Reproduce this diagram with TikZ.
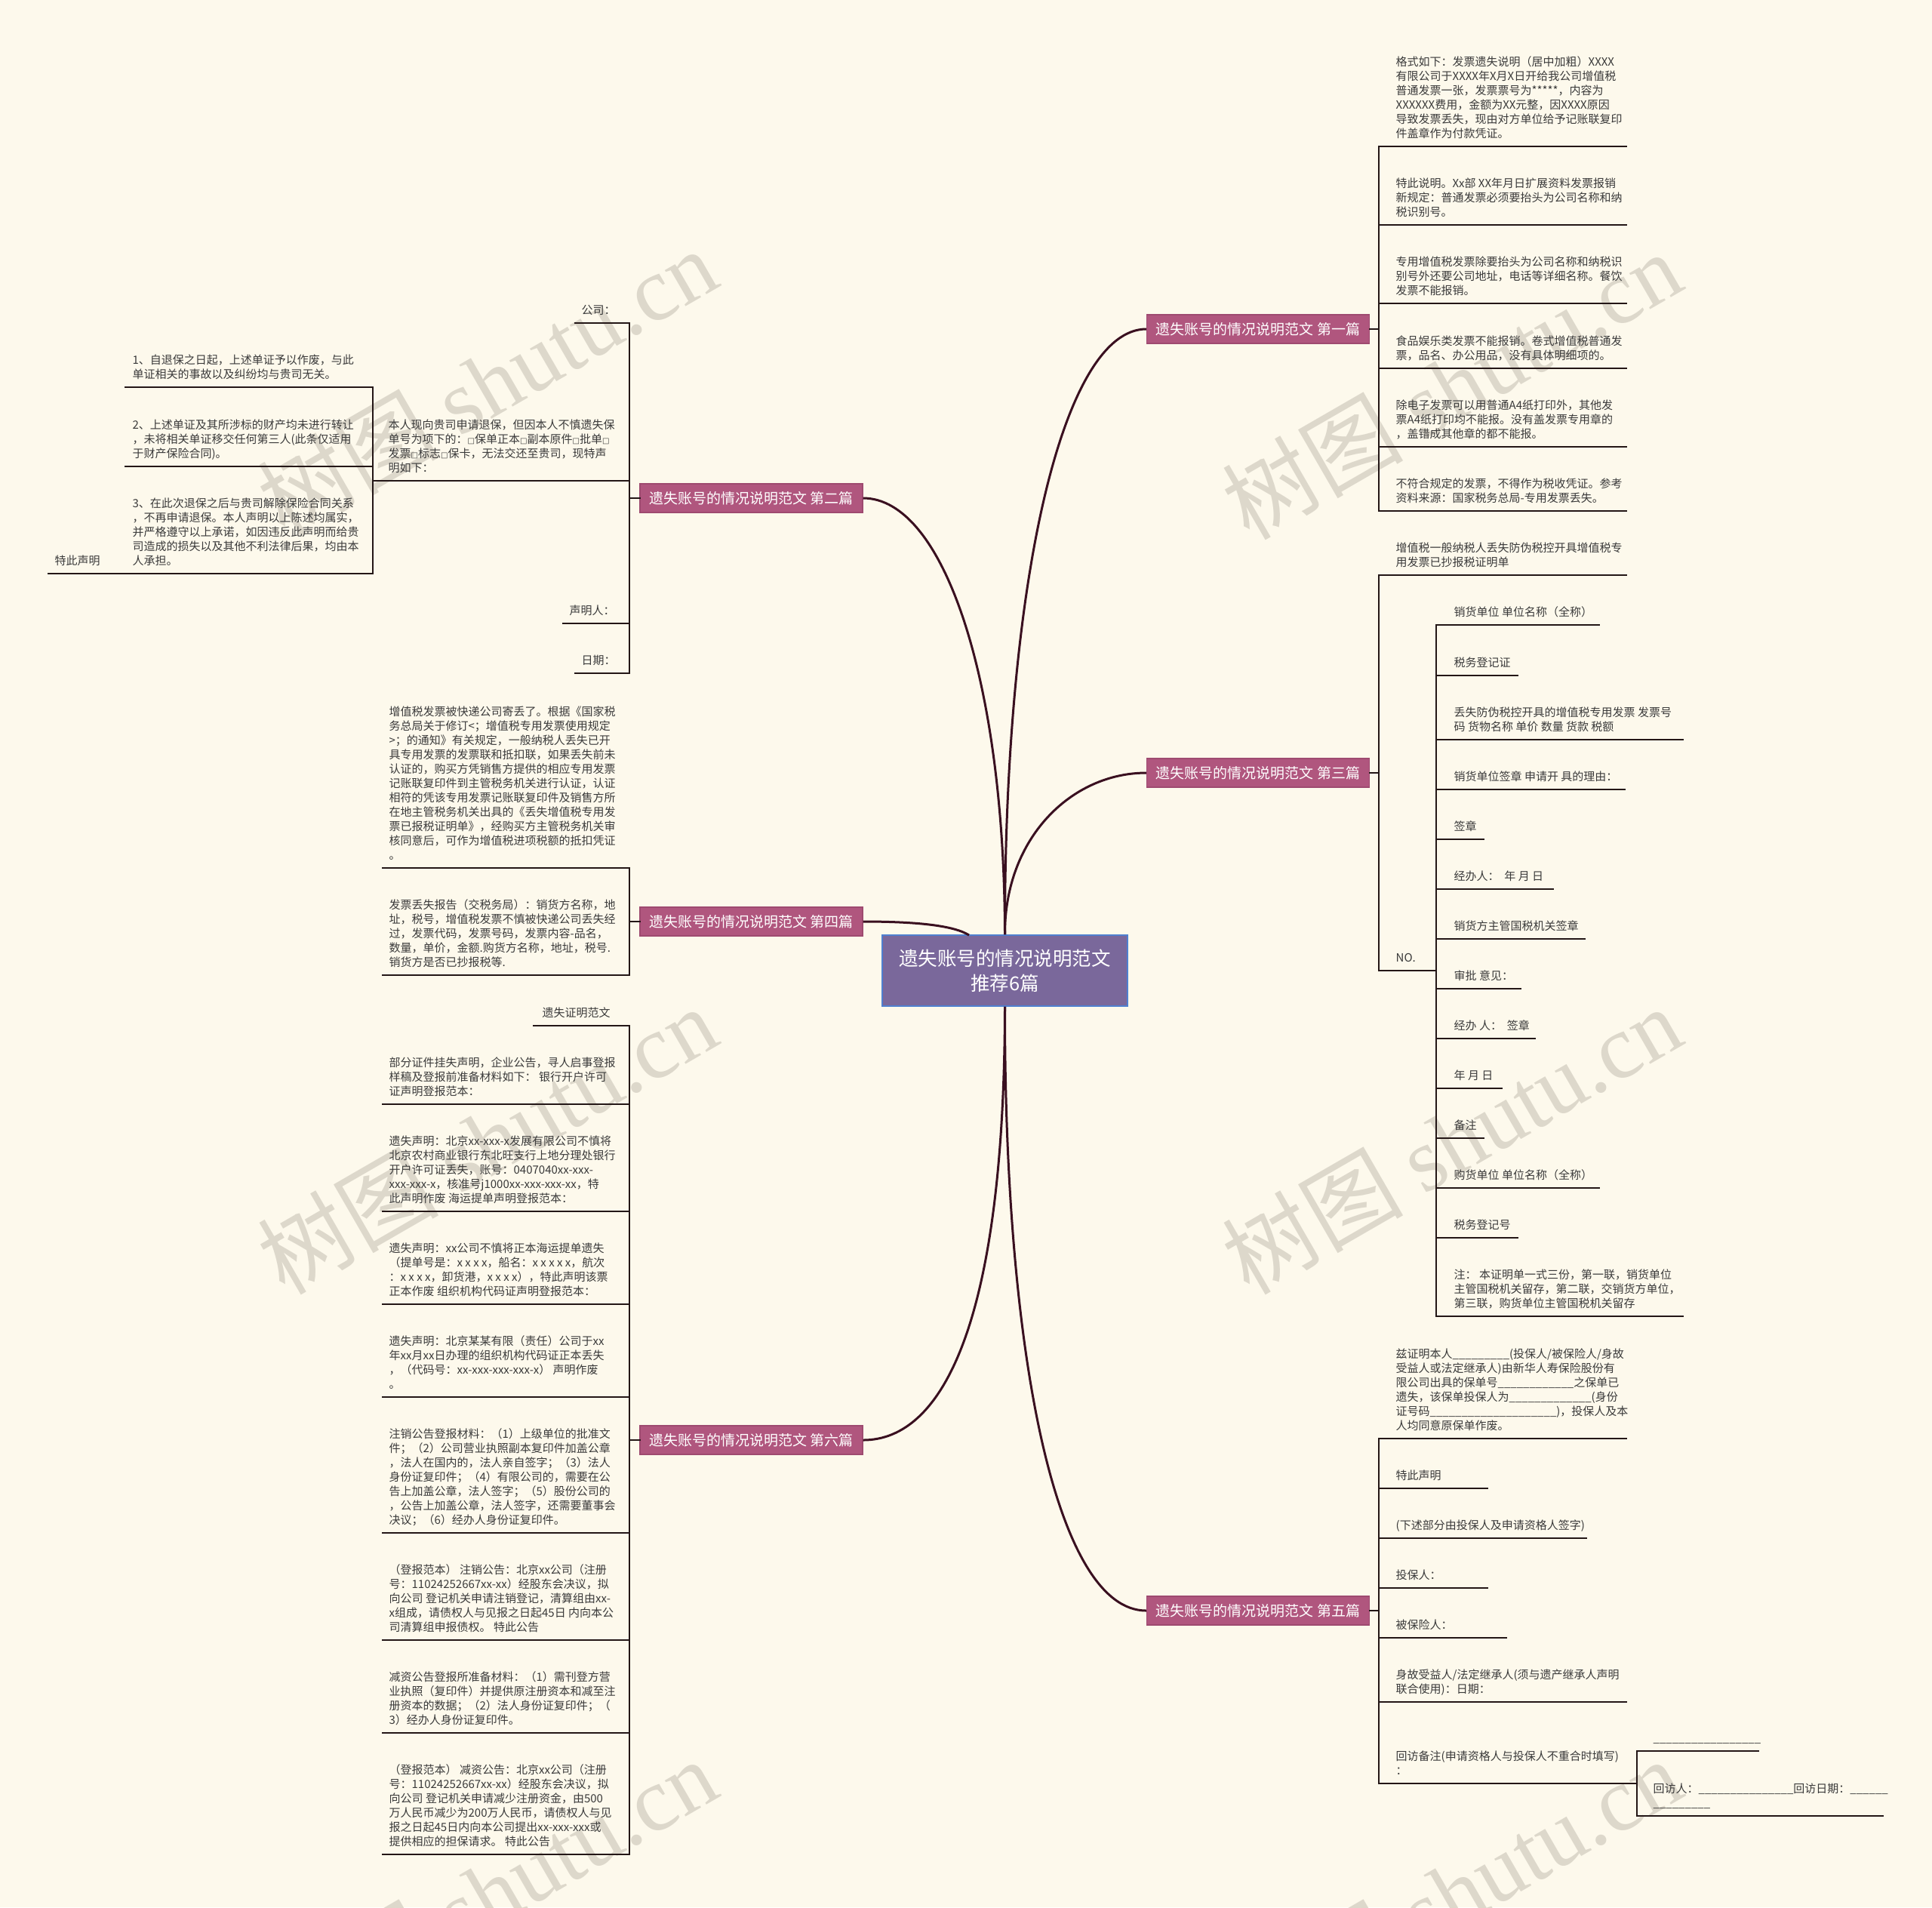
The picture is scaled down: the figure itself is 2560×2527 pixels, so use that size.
\documentclass[tikz,border=0pt]{standalone}
\usepackage{fontspec}
\usepackage{graphicx}
\setmainfont{Noto Sans CJK SC}
\newfontfamily\wmserif{Liberation Serif}
\newfontfamily\symfont{DejaVu Sans}
\definecolor{bg}{HTML}{FDF9EC}
\definecolor{branchfill}{HTML}{B0567E}
\definecolor{branchdraw}{HTML}{9E4A70}
\definecolor{hubfill}{HTML}{7A689B}
\definecolor{hubdraw}{HTML}{4F80D0}
\definecolor{lineclr}{HTML}{231616}
\definecolor{curveclr}{HTML}{3A1020}
\definecolor{txt}{HTML}{3A3A3A}
\definecolor{wm}{HTML}{DDD8CB}
\newcommand\sq{{\symfont\fontsize{3}{3}\selectfont □}}
\newcommand\usc[1]{\foreach\i in {1,...,#1}{\_}}
\newcommand\mmleaf[6]{%
  \coordinate (#1-l) at (#2,#5);
  \coordinate (#1-r) at (#4,#5);
  \node[leaf] (#1) at (#3,#5) {#6};
  \draw[uline] (#1-l) -- (#1-r);}
\begin{document}
\begin{tikzpicture}[x=0.3pt,y=-0.3pt,
  leaf/.style={anchor=south west,inner xsep=0pt,inner ysep=1.68pt,align=left,
    font=\fontsize{4.5}{5.7}\selectfont,text=txt,execute at end node=\strut},
  uline/.style={draw=lineclr,line width=0.7pt,line cap=rect},
  curve/.style={draw=curveclr,line width=0.9pt},
  branch/.style={fill=branchfill,draw=branchdraw,line width=0.4pt,text=white,
    font=\fontsize{5.7}{6.8}\selectfont,minimum width=88.5pt,minimum height=11.4pt,inner sep=0pt},
  hub/.style={fill=hubfill,draw=hubdraw,line width=0.5pt,text=white,
    font=\fontsize{7.65}{9.9}\selectfont,minimum width=97.5pt,minimum height=28.2pt,
    align=center,inner sep=0pt},
  wmark/.style={rotate=30,text=wm,font=\fontsize{36}{40}\selectfont,inner sep=0pt}]
\fill[bg] (0,0) rectangle (2560,2527);
\useasboundingbox (0,0) rectangle (2560,2527);
% watermarks
\begin{scope}
\clip (0,0) rectangle (2560,2527);
\node[wmark] (wm1) at (645,506) {树图 {\wmserif shutu.cn}};
\node[wmark] (wm2) at (1923,510) {树图 {\wmserif shutu.cn}};
\node[wmark] (wm3) at (645,1510) {树图 {\wmserif shutu.cn}};
\node[wmark] (wm4) at (1923,1510) {树图 {\wmserif shutu.cn}};
\node[wmark] (wm5) at (645,2507) {树图 {\wmserif shutu.cn}};
\node[wmark] (wm6) at (1923,2507) {树图 {\wmserif shutu.cn}};
\end{scope}
% hub and branches
\node[hub] (ctr) at (1331.5,1286) {遗失账号的情况说明范文\\推荐6篇};
\node[branch] (b1) at (1667,436) {遗失账号的情况说明范文 第一篇};
\node[branch] (b3) at (1667,1024) {遗失账号的情况说明范文 第三篇};
\node[branch] (b5) at (1667,2134) {遗失账号的情况说明范文 第五篇};
\node[branch] (b2) at (995.5,660) {遗失账号的情况说明范文 第二篇};
\node[branch] (b4) at (995.5,1221) {遗失账号的情况说明范文 第四篇};
\node[branch] (b6) at (995.5,1908) {遗失账号的情况说明范文 第六篇};
\coordinate (c4in) at (1284,1239);
\draw[curve] (ctr.north) .. controls (1331,760) and (1410,436) .. (b1.west);
\draw[curve] (ctr.north) .. controls (1331,1110) and (1420,1024) .. (b3.west);
\draw[curve] (ctr.south) .. controls (1331,1800) and (1400,2134) .. (b5.west);
\draw[curve] (ctr.north) .. controls (1331,900) and (1250,660) .. (b2.east);
\draw[curve] (b4.east) .. controls (1220,1221) and (1265,1227) .. (c4in);
\draw[curve] (ctr.south) .. controls (1331,1750) and (1250,1908) .. (b6.east);
% ---------- 第一篇
\mmleaf{a1}{1827}{1849}{2155}{194}{格式如下：发票遗失说明（居中加粗）XXXX\\有限公司于XXXX年X月X日开给我公司增值税\\普通发票一张，发票票号为*****，内容为\\XXXXXX费用，金额为XX元整，因XXXX原因\\导致发票丢失，现由对方单位给予记账联复印\\件盖章作为付款凭证。}
\mmleaf{a2}{1827}{1849}{2155}{298}{特此说明。Xx部 XX年月日扩展资料发票报销\\新规定：普通发票必须要抬头为公司名称和纳\\税识别号。}
\mmleaf{a3}{1827}{1849}{2155}{402}{专用增值税发票除要抬头为公司名称和纳税识\\别号外还要公司地址，电话等详细名称。餐饮\\发票不能报销。}
\mmleaf{a4}{1827}{1849}{2155}{488}{食品娱乐类发票不能报销。卷式增值税普通发\\票，品名、办公用品，没有具体明细项的。}
\mmleaf{a5}{1827}{1849}{2155}{592}{除电子发票可以用普通A4纸打印外，其他发\\票A4纸打印均不能报。没有盖发票专用章的\\，盖错成其他章的都不能报。}
\mmleaf{a6}{1827}{1849}{2155}{677}{不符合规定的发票，不得作为税收凭证。参考\\资料来源：国家税务总局-专用发票丢失。}
\draw[uline] (a1-l) -- (a6-l);
\draw[uline] (b1.east) -- (b1.east -| a1-l);
% ---------- 第三篇
\mmleaf{t1}{1827}{1849}{2155}{762}{增值税一般纳税人丢失防伪税控开具增值税专\\用发票已抄报税证明单}
\mmleaf{no}{1827}{1849}{1903}{1286}{NO.}
\draw[uline] (t1-l) -- (no-l);
\draw[uline] (b3.east) -- (b3.east -| t1-l);
\mmleaf{c1}{1903}{1926}{2119}{828}{销货单位 单位名称（全称）}
\mmleaf{c2}{1903}{1926}{2011}{895}{税务登记证}
\mmleaf{c3}{1903}{1926}{2230}{980}{丢失防伪税控开具的增值税专用发票 发票号\\码 货物名称 单价 数量 货款 税额}
\mmleaf{c4}{1903}{1926}{2153}{1046}{销货单位签章 申请开 具的理由：}
\mmleaf{c5}{1903}{1926}{1966}{1112}{签章}
\mmleaf{c6}{1903}{1926}{2058}{1178}{经办人：~~年 月 日}
\mmleaf{c7}{1903}{1926}{2100}{1244}{销货方主管国税机关签章}
\mmleaf{c8}{1903}{1926}{2015}{1310}{审批 意见：}
\mmleaf{c9}{1903}{1926}{2034}{1376}{经办 人：~~签章}
\mmleaf{c10}{1903}{1926}{1990}{1442}{年 月 日}
\mmleaf{c11}{1903}{1926}{1966}{1508}{备注}
\mmleaf{c12}{1903}{1926}{2119}{1574}{购货单位 单位名称（全称）}
\mmleaf{c13}{1903}{1926}{2011}{1640}{税务登记号}
\mmleaf{c14}{1903}{1926}{2230}{1744}{注： 本证明单一式三份，第一联，销货单位\\主管国税机关留存，第二联，交销货方单位，\\第三联，购货单位主管国税机关留存}
\draw[uline] (c1-l) -- (c14-l);
% ---------- 第五篇
\mmleaf{d1}{1827}{1849}{2155}{1906}{兹证明本人\usc{9}(投保人/被保险人/身故\\受益人或法定继承人)由新华人寿保险股份有\\限公司出具的保单号\usc{12}之保单已\\遗失，该保单投保人为\usc{13}(身份\\证号码\usc{20})，投保人及本\\人均同意原保单作废。}
\mmleaf{d2}{1827}{1849}{1971}{1972}{特此声明}
\mmleaf{d3}{1827}{1849}{2102}{2038}{(下述部分由投保人及申请资格人签字)}
\mmleaf{d4}{1827}{1849}{1971}{2104}{投保人：}
\mmleaf{d5}{1827}{1849}{1996}{2170}{被保险人：}
\mmleaf{d6}{1827}{1849}{2155}{2255}{身故受益人/法定继承人(须与遗产继承人声明\\联合使用)：日期：}
\mmleaf{d7}{1827}{1849}{2169}{2363}{回访备注(申请资格人与投保人不重合时填写)\\：}
\draw[uline] (d1-l) -- (d7-l);
\draw[uline] (b5.east) -- (b5.east -| d1-l);
\mmleaf{e1}{2169}{2190}{2330}{2320}{\usc{17}}
\mmleaf{e2}{2169}{2190}{2495}{2406}{回访人：\usc{15}回访日期：\usc{6}\\\usc{9}}
\draw[uline] (e1-l) -- (e2-l);
% ---------- 第二篇
\mmleaf{f1}{762}{770}{834}{428}{公司：}
\mmleaf{f2}{494}{514}{834}{637}{本人现向贵司申请退保，但因本人不慎遗失保\\单号为项下的：\sq 保单正本\sq 副本原件\sq 批单\sq\\发票\sq 标志\sq 保卡，无法交还至贵司，现特声\\明如下：}
\mmleaf{f3}{746}{754}{834}{826}{声明人：}
\mmleaf{f4}{762}{770}{834}{892}{日期：}
\draw[uline] (f1-r) -- (f4-r);
\draw[uline] (b2.west) -- (b2.west -| f1-r);
\mmleaf{g1}{166}{175}{494}{513}{1、自退保之日起，上述单证予以作废，与此\\单证相关的事故以及纠纷均与贵司无关。}
\mmleaf{g2}{166}{175}{494}{618}{2、上述单证及其所涉标的财产均未进行转让\\，未将相关单证移交任何第三人(此条仅适用\\于财产保险合同)。}
\mmleaf{g3}{166}{175}{494}{760}{3、在此次退保之后与贵司解除保险合同关系\\，不再申请退保。本人声明以上陈述均属实，\\并严格遵守以上承诺，如因违反此声明而给贵\\司造成的损失以及其他不利法律后果，均由本\\人承担。}
\draw[uline] (g1-r) -- (g3-r);
\mmleaf{h1}{64}{72}{166}{760}{特此声明}
% ---------- 第四篇
\mmleaf{i1}{507}{515}{834}{1150}{增值税发票被快递公司寄丢了。根据《国家税\\务总局关于修订<；增值税专用发票使用规定\\>；的通知》有关规定，一般纳税人丢失已开\\具专用发票的发票联和抵扣联，如果丢失前未\\认证的，购买方凭销售方提供的相应专用发票\\记账联复印件到主管税务机关进行认证，认证\\相符的凭该专用发票记账联复印件及销售方所\\在地主管税务机关出具的《丢失增值税专用发\\票已报税证明单》，经购买方主管税务机关审\\核同意后，可作为增值税进项税额的抵扣凭证\\。}
\mmleaf{i2}{507}{515}{834}{1292}{发票丢失报告（交税务局）：销货方名称，地\\址，税号，增值税发票不慎被快递公司丢失经\\过，发票代码，发票号码，发票内容-品名，\\数量，单价，金额.购货方名称，地址，税号.\\销货方是否已抄报税等.}
\draw[uline] (i1-r) -- (i2-r);
\draw[uline] (b4.west) -- (b4.west -| i1-r);
% ---------- 第六篇
\mmleaf{j1}{707}{718}{834}{1359}{遗失证明范文}
\mmleaf{j2}{507}{515}{834}{1463}{部分证件挂失声明，企业公告，寻人启事登报\\样稿及登报前准备材料如下： 银行开户许可\\证声明登报范本：}
\mmleaf{j3}{507}{515}{834}{1605}{遗失声明：北京xx-xxx-x发展有限公司不慎将\\北京农村商业银行东北旺支行上地分理处银行\\开户许可证丢失，账号：0407040xx-xxx-\\xxx-xxx-x，核准号j1000xx-xxx-xxx-xx，特\\此声明作废 海运提单声明登报范本：}
\mmleaf{j4}{507}{515}{834}{1728}{遗失声明：xx公司不慎将正本海运提单遗失\\（提单号是：x x x x，船名：x x x x x，航次\\：x x x x，卸货港，x x x x），特此声明该票\\正本作废 组织机构代码证声明登报范本：}
\mmleaf{j5}{507}{515}{834}{1851}{遗失声明：北京某某有限（责任）公司于xx\\年xx月xx日办理的组织机构代码证正本丢失\\，（代码号：xx-xxx-xxx-xxx-x） 声明作废\\。}
\mmleaf{j6}{507}{515}{834}{2031}{注销公告登报材料：（1）上级单位的批准文\\件；（2）公司营业执照副本复印件加盖公章\\，法人在国内的，法人亲自签字；（3）法人\\身份证复印件；（4）有限公司的，需要在公\\告上加盖公章，法人签字；（5）股份公司的\\，公告上加盖公章，法人签字，还需要董事会\\决议；（6）经办人身份证复印件。}
\mmleaf{j7}{507}{515}{834}{2173}{（登报范本） 注销公告：北京xx公司（注册\\号：11024252667xx-xx）经股东会决议，拟\\向公司 登记机关申请注销登记，清算组由xx-\\x组成，请债权人与见报之日起45日 内向本公\\司清算组申报债权。 特此公告}
\mmleaf{j8}{507}{515}{834}{2296}{减资公告登报所准备材料：（1）需刊登方营\\业执照（复印件）并提供原注册资本和减至注\\册资本的数据；（2）法人身份证复印件；（\\3）经办人身份证复印件。}
\mmleaf{j9}{507}{515}{834}{2457}{（登报范本） 减资公告：北京xx公司（注册\\号：11024252667xx-xx）经股东会决议，拟\\向公司 登记机关申请减少注册资金，由500\\万人民币减少为200万人民币，请债权人与见\\报之日起45日内向本公司提出xx-xxx-xxx或\\提供相应的担保请求。 特此公告}
\draw[uline] (j1-r) -- (j9-r);
\draw[uline] (b6.west) -- (b6.west -| j1-r);
\end{tikzpicture}
\end{document}
